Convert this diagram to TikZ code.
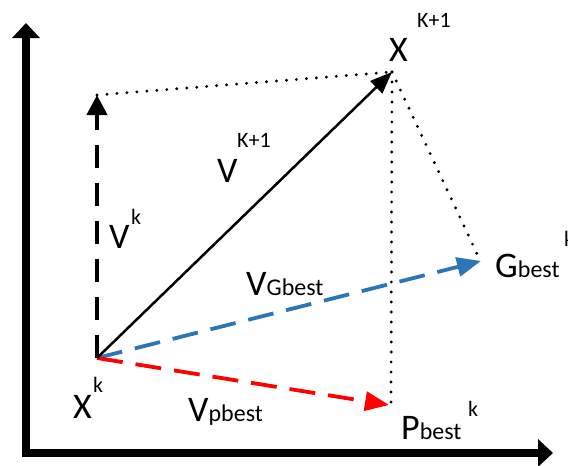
\documentclass[tikz,border=0pt]{standalone}
\usepackage{fontspec}
\setmainfont{Carlito}
\usetikzlibrary{arrows.meta}
\definecolor{vblue}{RGB}{46,117,182}
\definecolor{vred}{RGB}{255,0,0}
\newcommand\BigF{\fontsize{36}{40}\selectfont}
\newcommand\SmF{\fontsize{24}{28}\selectfont}
\newcommand\SupF{\fontsize{22}{26}\selectfont}
\begin{document}
\begin{tikzpicture}[x=1pt,y=-1pt,
  lbl/.style={inner sep=0pt, anchor=base west},
  axisline/.style={line width=8pt, line join=miter,
     {Triangle[width=27pt,length=15pt]}-{Triangle[width=27pt,length=15pt]}},
  dots/.style={line width=3.2pt, line cap=round, dash pattern=on 0pt off 10pt},
  vec/.style={line width=2.5pt, -{Triangle[width=17pt,length=22pt]}},
  dvec/.style={line width=4pt, dash pattern=on 23pt off 15pt, -{Triangle[width=20pt,length=20pt]}},
  cvec/.style={line width=3.8pt, dash pattern=on 26pt off 13pt, -{Triangle[width=19pt,length=24pt]}}]
\useasboundingbox (0,0) rectangle (568,466);
% points
\coordinate (ytop) at (26,23);
\coordinate (xend) at (553,453);
\coordinate (xk) at (97,358);
\coordinate (xn) at (392,72);
\coordinate (vt) at (97,95);
\coordinate (gb) at (481,261);
\coordinate (pb) at (389,405);
% axes
\draw[axisline] (ytop) |- (xend);
% dotted construction lines
\draw[dots] (vt) -- (xn);
\draw[dots] (xn) -- (479,258) coordinate (gbd);
\draw[dots] (xn) -- (391,405) coordinate (pbd);
% vectors
\draw[dvec] (xk) -- (vt);
\draw[cvec, vblue] (xk) -- (gb);
\draw[cvec, vred] (xk) -- (pb);
\draw[vec] (xk) -- (xn);
% labels
\node[lbl] (lxn) at (389,61) {\BigF X};
\node[lbl] (lxnsup) at (417,27) {\SupF K+1};
\node[lbl] (lvn) at (217,182) {\BigF V};
\node[lbl] (lvnsup) at (237,147) {\SupF K+1};
\node[lbl] (lvk) at (109,248) {\BigF V};
\node[lbl] (lvksup) at (131,224) {\SupF k};
\node[lbl] (lxk) at (73,418) {\BigF X};
\node[lbl] (lxksup) at (93,392) {\SupF k};
\node[lbl] (lvg) at (246,295) {\BigF V\SmF Gbest};
\node[lbl] (lvp) at (188,421) {\BigF V\SmF pbest};
\node[lbl] (lg) at (495,277) {\BigF G\SmF best};
\node[lbl] (lgsup) at (564,246) {\SupF k};
\node[lbl] (lp) at (401,439) {\BigF P\SmF best};
\node[lbl] (lpsup) at (468,416) {\SupF k};
\end{tikzpicture}
\end{document}
